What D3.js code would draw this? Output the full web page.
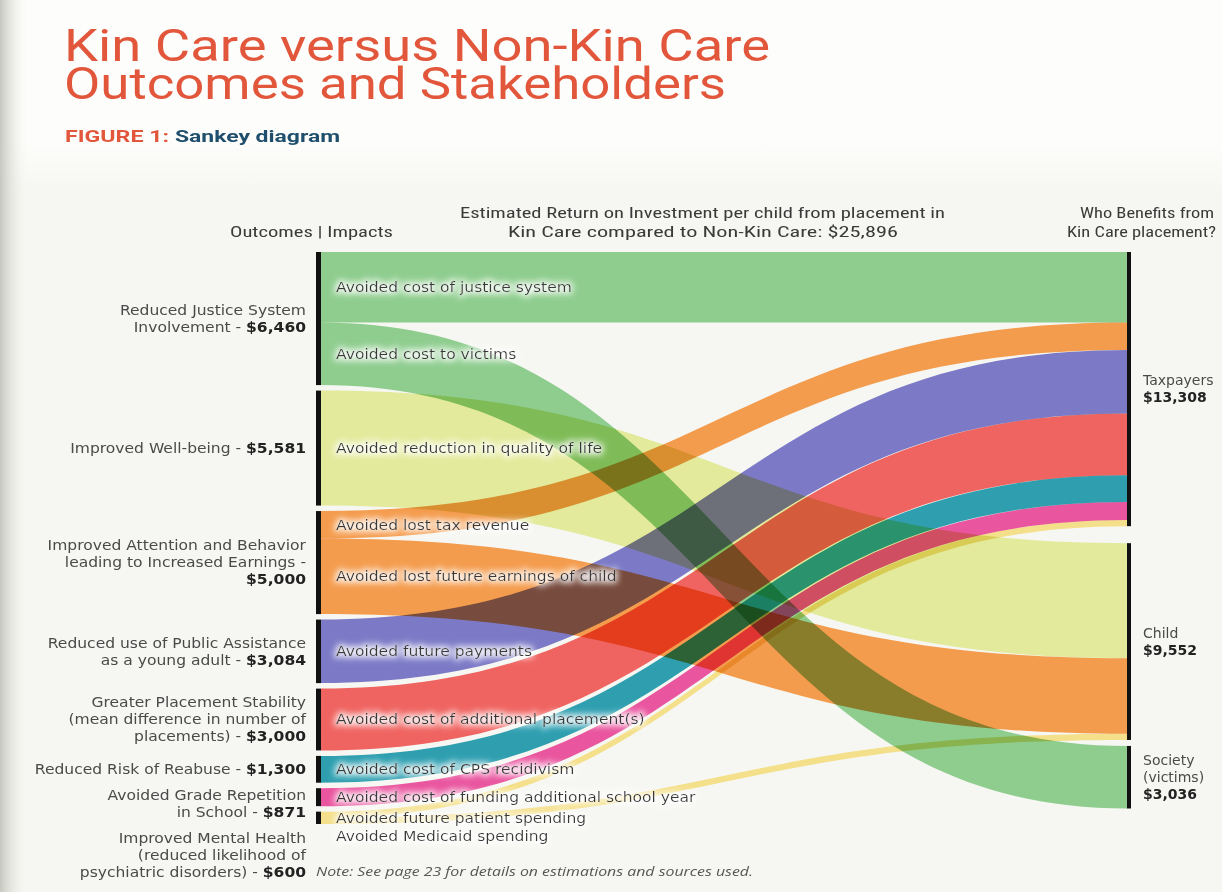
<!DOCTYPE html>
<html>
<head>
<meta charset="utf-8">
<script src="https://cdn.jsdelivr.net/npm/d3@7"></script>
<style>
  html, body { margin: 0; padding: 0; background: #f6f7f2; }
  svg { display: block; }
</style>
</head>
<body>
<svg id="chart" width="1222" height="892"></svg>
<script>
// ---------------- DATA ----------------
const outcomeNames = [
  "Reduced Justice System Involvement",
  "Improved Well-being",
  "Improved Attention and Behavior leading to Increased Earnings",
  "Reduced use of Public Assistance as a young adult",
  "Greater Placement Stability (mean difference in number of placements)",
  "Reduced Risk of Reabuse",
  "Avoided Grade Repetition in School",
  "Improved Mental Health (reduced likelihood of psychiatric disorders)"
];
const outcomeLabelLines = [
  ["Reduced Justice System", "Involvement - "],
  ["Improved Well-being - "],
  ["Improved Attention and Behavior", "leading to Increased Earnings -", ""],
  ["Reduced use of Public Assistance", "as a young adult - "],
  ["Greater Placement Stability", "(mean difference in number of", "placements) - "],
  ["Reduced Risk of Reabuse - "],
  ["Avoided Grade Repetition", "in School - "],
  ["Improved Mental Health", "(reduced likelihood of", "psychiatric disorders) - "]
];
const outcomeColors = ["#8fcd8f", "#e3ea9c", "#f49c4e", "#7c7ac6", "#ef6461", "#2f9fb0", "#e9559f", "#f4df8a"];

const stakeholderLabelLines = [["Taxpayers"], ["Child"], ["Society", "(victims)"]];

const linkSources = [0, 0, 1, 2, 2, 3, 4, 5, 6, 7, 7];
const linkTargets = [0, 2, 1, 0, 1, 0, 0, 0, 0, 1, 0];
const linkValues  = [3424, 3036, 5581, 1329, 3671, 3084, 3000, 1300, 871, 300, 300];
const linkLabels  = [
  "Avoided cost of justice system",
  "Avoided cost to victims",
  "Avoided reduction in quality of life",
  "Avoided lost tax revenue",
  "Avoided lost future earnings of child",
  "Avoided future payments",
  "Avoided cost of additional placement(s)",
  "Avoided cost of CPS recidivism",
  "Avoided cost of funding additional school year",
  "Avoided future patient spending",
  "Avoided Medicaid spending"
];

const titleLines = ["Kin Care versus Non-Kin Care", "Outcomes and Stakeholders"];
const figureLabel = "FIGURE 1:";
const figureName = "Sankey diagram";
const headerLeft = "Outcomes | Impacts";
const headerMid = ["Estimated Return on Investment per child from placement in", "Kin Care compared to Non-Kin Care: "];
const headerRight = ["Who Benefits from", "Kin Care placement?"];
const noteText = "Note: See page 23 for details on estimations and sources used.";

// ---------------- LAYOUT ----------------
const svg = d3.select("#chart");
const fmt = v => "$" + d3.format(",")(v);
const total = d3.sum(linkValues);

const xLeft = 321, xRight = 1127, barW = 5;
const top0 = 252;
const leftPad = 5.5;
const rightPads = [17, 6];
const h = d3.scaleLinear().domain([0, total]).range([0, 533.5]);
const labelFont = "'DejaVu Sans', Verdana, sans-serif";
const stretch = 1.11;   // the source's text is horizontally wide

const links = linkValues.map((v, i) => ({ i, source: linkSources[i], target: linkTargets[i], value: v, label: linkLabels[i], color: outcomeColors[linkSources[i]] }));

const left = outcomeNames.map((n, i) => ({ i, value: d3.sum(links.filter(l => l.source === i), l => l.value) }));
const right = stakeholderLabelLines.map((n, i) => ({ i, value: d3.sum(links.filter(l => l.target === i), l => l.value) }));

let y = top0;
left.forEach((n) => { n.y0 = y; n.y1 = y + h(n.value); y = n.y1 + leftPad; });
y = top0;
right.forEach((n, i) => { n.y0 = y; n.y1 = y + h(n.value); y = n.y1 + (rightPads[i] || 0); });

left.forEach(n => {
  let yy = n.y0;
  links.filter(l => l.source === n.i).sort((a, b) => a.target - b.target).forEach(l => { l.sy0 = yy; yy += h(l.value); l.sy1 = yy; });
});
right.forEach(n => {
  let yy = n.y0;
  links.filter(l => l.target === n.i).sort((a, b) => a.source - b.source).forEach(l => { l.ty0 = yy; yy += h(l.value); l.ty1 = yy; });
});

// ---------------- BACKGROUND ----------------
const defs = svg.append("defs");
const lg = defs.append("linearGradient").attr("id", "edge").attr("x1", 0).attr("x2", 1);
lg.append("stop").attr("offset", 0).attr("stop-color", "#c6c7bf");
lg.append("stop").attr("offset", 1).attr("stop-color", "#f6f7f2").attr("stop-opacity", 0);
const vg = defs.append("linearGradient").attr("id", "topfade").attr("x1", 0).attr("x2", 0).attr("y1", 0).attr("y2", 1);
vg.append("stop").attr("offset", 0).attr("stop-color", "#fdfdfb");
vg.append("stop").attr("offset", 0.75).attr("stop-color", "#fdfdfb");
vg.append("stop").attr("offset", 1).attr("stop-color", "#f6f7f2");
svg.append("rect").attr("width", 1222).attr("height", 892).attr("fill", "#f6f7f2");
svg.append("rect").attr("width", 1222).attr("height", 190).attr("fill", "url(#topfade)");
svg.append("rect").attr("width", 28).attr("height", 892).attr("fill", "url(#edge)");

const glow = defs.append("filter").attr("id", "glow").attr("x", "-10%").attr("y", "-60%").attr("width", "120%").attr("height", "220%");
glow.append("feMorphology").attr("in", "SourceAlpha").attr("operator", "dilate").attr("radius", 1.5).attr("result", "d");
glow.append("feGaussianBlur").attr("in", "d").attr("stdDeviation", 3).attr("result", "b");
glow.append("feFlood").attr("flood-color", "#ffffff").attr("flood-opacity", 0.85);
glow.append("feComposite").attr("in2", "b").attr("operator", "in").attr("result", "g");
const fm = glow.append("feMerge");
fm.append("feMergeNode").attr("in", "g");
fm.append("feMergeNode").attr("in", "SourceGraphic");

// ---------------- TITLE ----------------
const titleFont = "Roboto, 'Liberation Sans', sans-serif";
svg.append("g").selectAll("text").data(titleLines).join("text")
  .attr("x", 64).attr("y", (d, i) => 61 + i * 38)
  .attr("font-family", titleFont).attr("font-size", 45).attr("font-weight", 400)
  .attr("fill", "#e2573c").attr("textLength", (d, i) => i === 0 ? 706 : 662).attr("lengthAdjust", "spacingAndGlyphs")
  .text(d => d);
svg.append("text").attr("x", 65).attr("y", 142)
  .attr("font-family", titleFont).attr("font-size", 16).attr("font-weight", 700)
  .attr("fill", "#e2573c").attr("textLength", 104).attr("lengthAdjust", "spacingAndGlyphs").text(figureLabel);
svg.append("text").attr("x", 175).attr("y", 142)
  .attr("font-family", titleFont).attr("font-size", 16).attr("font-weight", 700)
  .attr("fill", "#1f4f6c").attr("textLength", 165).attr("lengthAdjust", "spacingAndGlyphs").text(figureName);

// ---------------- HEADERS ----------------
const headFont = "'Roboto Condensed', 'Liberation Sans Narrow', Roboto, sans-serif";
const hd = svg.append("g").attr("font-family", headFont).attr("font-size", 15).attr("fill", "#3a3a3a");
hd.append("text").attr("x", 230).attr("y", 237).attr("textLength", 163).attr("lengthAdjust", "spacingAndGlyphs").text(headerLeft);
hd.append("text").attr("x", 460).attr("y", 218).attr("textLength", 485).attr("lengthAdjust", "spacingAndGlyphs").text(headerMid[0]);
hd.append("text").attr("x", 508).attr("y", 237).attr("textLength", 390).attr("lengthAdjust", "spacingAndGlyphs").text(headerMid[1] + fmt(total));
hd.append("text").attr("x", 1080).attr("y", 218).attr("textLength", 134).attr("lengthAdjust", "spacingAndGlyphs").text(headerRight[0]);
hd.append("text").attr("x", 1067).attr("y", 237).attr("textLength", 149).attr("lengthAdjust", "spacingAndGlyphs").text(headerRight[1]);

// ---------------- LINKS ----------------
function bandPath(l) {
  const x0 = xLeft, x1 = xRight, xm = (x0 + x1) / 2;
  const p = d3.path();
  p.moveTo(x0, l.sy0);
  p.bezierCurveTo(xm, l.sy0, xm, l.ty0, x1, l.ty0);
  p.lineTo(x1, l.ty1);
  p.bezierCurveTo(xm, l.ty1, xm, l.sy1, x0, l.sy1);
  p.closePath();
  return p.toString();
}
svg.append("g").style("isolation", "isolate").selectAll("path").data(links).join("path")
  .attr("d", bandPath).attr("fill", d => d.color)
  .style("mix-blend-mode", "multiply");

// ---------------- NODE BARS ----------------
svg.append("g").selectAll("rect").data(left).join("rect")
  .attr("x", xLeft - barW).attr("y", d => d.y0).attr("width", barW).attr("height", d => d.y1 - d.y0).attr("fill", "#111");
svg.append("g").selectAll("rect").data(right).join("rect")
  .attr("x", xRight).attr("y", d => d.y0).attr("width", barW - 1).attr("height", d => d.y1 - d.y0).attr("fill", "#111");

// ---------------- LINK LABELS ----------------
const linkLabelPos = [];
left.forEach(n => {
  const ls = links.filter(l => l.source === n.i);
  if (n.y1 - n.y0 < 16) {
    const c = (n.y0 + n.y1) / 2;
    ls.slice().sort((a, b) => a.i - b.i).forEach((l, k) => linkLabelPos.push({ l, y: c + k * 18 }));
  } else {
    ls.forEach(l => linkLabelPos.push({ l, y: (l.sy0 + l.sy1) / 2 }));
  }
});
svg.append("g").attr("transform", `translate(336,0) scale(${stretch},1)`)
  .attr("font-family", labelFont).attr("font-size", 14).attr("fill", "#383838")
  .selectAll("text").data(linkLabelPos).join("text")
  .attr("x", 0).attr("y", d => d.y).attr("dy", "0.35em").attr("filter", "url(#glow)")
  .text(d => d.l.label);

// ---------------- OUTCOME LABELS ----------------
const lineH = 17, labelGap = 9;
let prevBottom = -Infinity;
const outLab = svg.append("g").attr("transform", `translate(306,0) scale(${stretch},1)`)
  .attr("font-family", labelFont).attr("font-size", 14).attr("fill", "#4a4a4a");
left.forEach((n, i) => {
  const lines = outcomeLabelLines[i];
  const c = (n.y0 + n.y1) / 2;
  let first = c - (lines.length - 1) * lineH / 2;
  if (first - lineH / 2 < prevBottom + labelGap) first = prevBottom + labelGap + lineH / 2;
  const t = outLab.append("text").attr("text-anchor", "end");
  lines.forEach((ln, k) => {
    const ty = t.append("tspan").attr("x", 0).attr("y", first + k * lineH).attr("dy", "0.35em");
    if (k === lines.length - 1) {
      ty.append("tspan").text(ln);
      ty.append("tspan").attr("font-weight", 700).attr("fill", "#222").text(fmt(n.value));
    } else ty.text(ln);
  });
  prevBottom = first + (lines.length - 1) * lineH + lineH / 2;
});

// ---------------- STAKEHOLDER LABELS ----------------
const stLab = svg.append("g").attr("transform", `translate(1143,0)`)
  .attr("font-family", labelFont).attr("font-size", 14).attr("fill", "#4a4a4a");
right.forEach((n, i) => {
  const lines = stakeholderLabelLines[i].concat([fmt(n.value)]);
  const c = (n.y0 + n.y1) / 2;
  const first = c - (lines.length - 1) * lineH / 2;
  const t = stLab.append("text");
  lines.forEach((ln, k) => {
    const ty = t.append("tspan").attr("x", 0).attr("y", first + k * lineH).attr("dy", "0.35em").text(ln);
    if (k === lines.length - 1) ty.attr("font-weight", 700).attr("fill", "#222");
  });
});

// ---------------- NOTE ----------------
svg.append("text").attr("x", 316).attr("y", 876)
  .attr("font-family", "'Open Sans', sans-serif").attr("font-size", 12).attr("font-style", "italic").attr("fill", "#555")
  .attr("textLength", 437).attr("lengthAdjust", "spacingAndGlyphs")
  .text(noteText);
</script>
</body>
</html>
